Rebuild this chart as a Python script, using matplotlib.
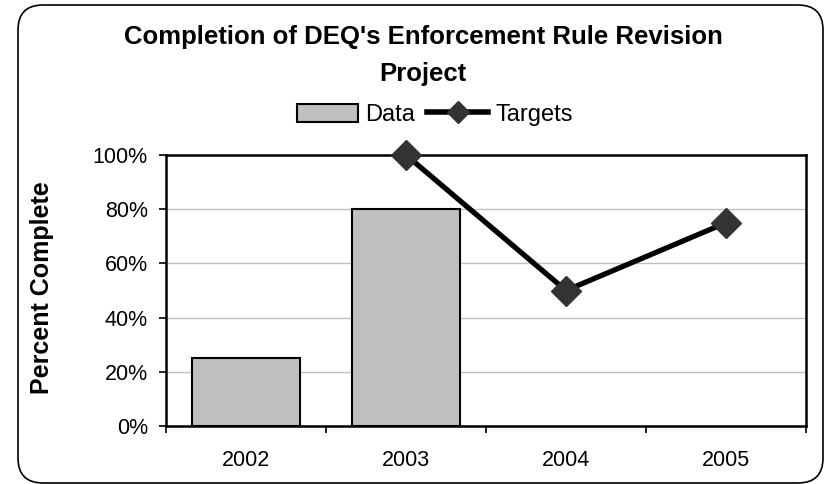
import matplotlib.pyplot as plt
from matplotlib.patches import FancyBboxPatch, Patch
from matplotlib.lines import Line2D
from matplotlib.ticker import PercentFormatter
import numpy as np

plt.rcParams['font.family'] = ['Liberation Sans', 'DejaVu Sans']

years = ['2002', '2003', '2004', '2005']
data = [0.25, 0.80, np.nan, np.nan]
targets = [np.nan, 1.00, 0.50, 0.75]

W, H = 827, 484
fig = plt.figure(figsize=(W / 100, H / 100), dpi=100)
ax = fig.add_axes([166 / W, 1 - 426 / H, 640 / W, 271 / H])

x = np.arange(len(years))
ax.bar(x, data, width=0.68, color='#c0c0c0', edgecolor='black',
       linewidth=1.5, zorder=2)
ax.plot(x, targets, color='black', lw=3.8, marker='D', markersize=15,
        markerfacecolor='#333333', markeredgecolor='#333333',
        zorder=3, clip_on=False)

ax.set_xlim(-0.5, len(years) - 0.5)
ax.set_ylim(0, 1)
ax.set_yticks(np.arange(0, 1.01, 0.2))
ax.yaxis.set_major_formatter(PercentFormatter(1.0, decimals=0))
ax.yaxis.grid(True, color='#c0c0c0', lw=1)
ax.set_axisbelow(True)

ax.set_xticks(x)
ax.set_xticklabels(years)
ax.set_xticks(np.arange(-0.5, len(years)), minor=True)
ax.tick_params(axis='x', which='major', length=0, pad=17, labelsize=15.5)
ax.tick_params(axis='x', which='minor', length=5, width=1.2, direction='out')
ax.tick_params(axis='y', length=5, width=1.2, direction='out', pad=8, labelsize=15.5)

for s in ax.spines.values():
    s.set_linewidth(1.8)

fig.text(42 / W, 1 - 288 / H, 'Percent Complete', rotation=90, ha='center',
         va='center', fontsize=18, fontweight='bold')

fig.text(423 / W, 1 - 37 / H, "Completion of DEQ's Enforcement Rule Revision",
         ha='center', va='center', fontsize=18.5, fontweight='bold')
fig.text(423 / W, 1 - 74 / H, 'Project',
         ha='center', va='center', fontsize=18.5, fontweight='bold')

# legend uses smaller diamonds than the plotted series
leg_handles = [
    Patch(facecolor='#c0c0c0', edgecolor='black', lw=1.5, label='Data'),
    Line2D([], [], color='black', lw=4, marker='D', markersize=11,
           markerfacecolor='#333333', markeredgecolor='#333333', label='Targets'),
]
fig.legend(handles=leg_handles, loc='center', bbox_to_anchor=(435 / W, 1 - 115 / H),
           ncol=2, frameon=False, fontsize=17, handlelength=2.6, handleheight=0.8,
           handletextpad=0.3, columnspacing=0.5, borderpad=0)

# rounded outer border, drawn in pixel units
border = FancyBboxPatch((18, 1), 805, 478,
                        boxstyle='round,pad=0,rounding_size=25',
                        transform=None, fill=False, edgecolor='black', lw=1.2)
fig.patches.append(border)

fig.savefig('out.png', dpi=100)
